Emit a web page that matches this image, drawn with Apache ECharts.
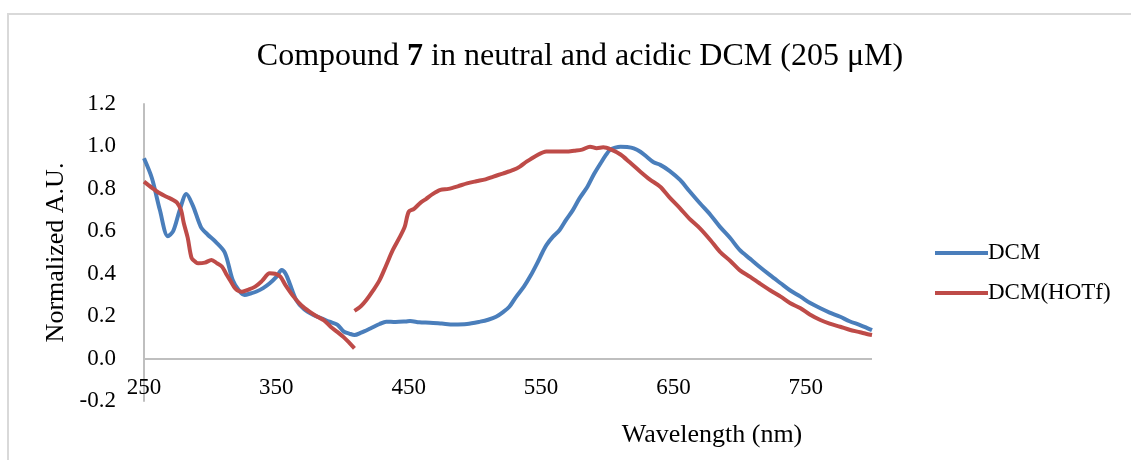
<!DOCTYPE html>
<html><head><meta charset="utf-8">
<script src="https://cdn.jsdelivr.net/npm/echarts@6/dist/echarts.min.js"></script>
<style>html,body{margin:0;padding:0;background:#fff}#c{width:1131px;height:460px}</style>
</head><body><div id="c"></div>
<script>
// Wavelengths (nm) and normalized absorbance for each series
const dcmX = [250,256,262,268,272,277,282,287,293,298,304,311,317,322,326,331,335,340,345,350,354,357,360,365,371,378,384,390,396,401,405,409,414,421,428,433,440,448,451,458,466,475,484,494,504,510,516,521,526,531,537,542,547,551,554,559,564,569,574,579,585,590,595,599,602,606,610,615,620,625,630,635,640,647,655,662,670,678,685,693,700,708,715,723,731,738,746,753,761,768,776,783,791,796,800];
const dcmY = [0.944,0.85,0.70,0.577,0.60,0.70,0.776,0.72,0.62,0.585,0.551,0.50,0.370,0.318,0.300,0.308,0.316,0.332,0.355,0.385,0.417,0.40,0.355,0.276,0.232,0.205,0.190,0.174,0.160,0.127,0.118,0.111,0.122,0.142,0.163,0.174,0.172,0.175,0.177,0.171,0.169,0.165,0.161,0.163,0.174,0.183,0.197,0.218,0.244,0.29,0.339,0.39,0.449,0.50,0.535,0.575,0.606,0.655,0.700,0.755,0.810,0.870,0.921,0.960,0.983,0.994,0.999,0.997,0.991,0.975,0.950,0.925,0.913,0.885,0.842,0.790,0.732,0.677,0.622,0.567,0.512,0.470,0.433,0.393,0.355,0.322,0.292,0.263,0.237,0.217,0.197,0.176,0.158,0.145,0.134];
const hotfX = [250,256,262,267,272,275,278,280,283,286,289,291,296,301,305,309,312,315,319,324,329,334,339,345,349,353,357,363,369,375,381,386,391,396,401,405,409,null,409,414,418,423,428,433,438,443,447,450,454,459,463,468,474,480,487,494,501,508,514,521,529,534,539,546,554,561,569,575,581,587,592,597,603,610,617,625,632,640,647,655,662,670,678,685,693,700,708,715,723,731,738,746,753,761,768,776,783,791,796,800];
const hotfY = [0.834,0.805,0.779,0.763,0.748,0.735,0.70,0.64,0.57,0.473,0.455,0.449,0.452,0.465,0.450,0.433,0.40,0.370,0.330,0.315,0.325,0.339,0.365,0.402,0.400,0.386,0.345,0.292,0.250,0.221,0.197,0.180,0.150,0.126,0.100,0.075,0.048,null,0.225,0.248,0.276,0.320,0.370,0.440,0.512,0.570,0.622,0.692,0.706,0.735,0.752,0.775,0.795,0.800,0.812,0.826,0.836,0.845,0.858,0.872,0.889,0.905,0.928,0.955,0.976,0.976,0.976,0.980,0.985,0.999,0.992,0.996,0.985,0.962,0.925,0.881,0.845,0.810,0.760,0.708,0.660,0.614,0.558,0.504,0.460,0.417,0.385,0.355,0.322,0.292,0.262,0.237,0.208,0.182,0.165,0.150,0.136,0.124,0.116,0.111];
const seriesNames = ['DCM','DCM(HOTf)'];
const xTickLabels = [250,350,450,550,650,750];

const pair = (xs, ys) => xs.map((x,i) => x === null ? [null,null] : [x, ys[i]]);
const font = '"Liberation Serif","Times New Roman",serif';
const chart = echarts.init(document.getElementById('c'));
chart.setOption({
  animation:false,
  backgroundColor:'#fff',
  graphic:[{type:'rect',shape:{x:8,y:14,width:1200,height:500},style:{fill:'none',stroke:'#d9d9d9',lineWidth:2},silent:true,z:-10}],
  title:{
    text:'{a|Compound }{b|7}{a| in neutral and acidic DCM (205 μM)}',
    left:575, top:36, textAlign:'center',
    textStyle:{fontWeight:'normal',fontFamily:font,fontSize:32,color:'#000',
      rich:{a:{fontFamily:font,fontSize:32,fontWeight:'normal',color:'#000'},b:{fontFamily:font,fontSize:32,fontWeight:'bold',color:'#000'}}}
  },
  legend:{
    orient:'vertical', left:930, top:236, itemWidth:53, itemHeight:4, itemGap:16,
    icon:'rect',
    textStyle:{fontFamily:font,fontSize:23,color:'#000',padding:[0,0,0,-5],lineHeight:24},
    data:seriesNames
  },
  grid:{left:144,right:259,top:104,bottom:59,containLabel:false,outerBoundsMode:'none'},
  xAxis:{
    type:'value', min:250, max:800, interval:50,
    name:'Wavelength (nm)', nameLocation:'middle', nameGap:21,
    nameTextStyle:{fontFamily:font,fontSize:26,color:'#000',padding:[0,0,0,408]},
    axisLine:{show:false,onZero:false},
    axisTick:{show:false},
    splitLine:{show:false},
    axisLabel:{fontFamily:font,fontSize:23,color:'#000',margin:-25,showMaxLabel:false,
      formatter:v => xTickLabels.indexOf(v) >= 0 ? String(v) : ''}
  },
  yAxis:{
    type:'value', min:-0.2, max:1.2, interval:0.2,
    name:'Normalized A.U.', nameLocation:'middle', nameGap:74, nameRotate:90,
    nameTextStyle:{fontFamily:font,fontSize:26,color:'#000'},
    axisLine:{show:true,lineStyle:{color:'#bfbfbf',width:2}},
    axisTick:{show:false},
    splitLine:{show:false},
    axisLabel:{fontFamily:font,fontSize:23,color:'#000',margin:28,formatter:v=>v.toFixed(1)}
  },
  series:[
    {name:seriesNames[0],type:'line',data:pair(dcmX,dcmY),showSymbol:false,smooth:0.3,connectNulls:false,
     lineStyle:{color:'#4a7ebb',width:4},itemStyle:{color:'#4a7ebb'},
     markLine:{silent:true,symbol:'none',label:{show:false},lineStyle:{color:'#bfbfbf',width:2,type:'solid'},data:[{yAxis:0}],z:1}},
    {name:seriesNames[1],type:'line',data:pair(hotfX,hotfY),showSymbol:false,smooth:0.3,connectNulls:false,
     lineStyle:{color:'#be4b48',width:4},itemStyle:{color:'#be4b48'}}
  ]
});
</script></body></html>
